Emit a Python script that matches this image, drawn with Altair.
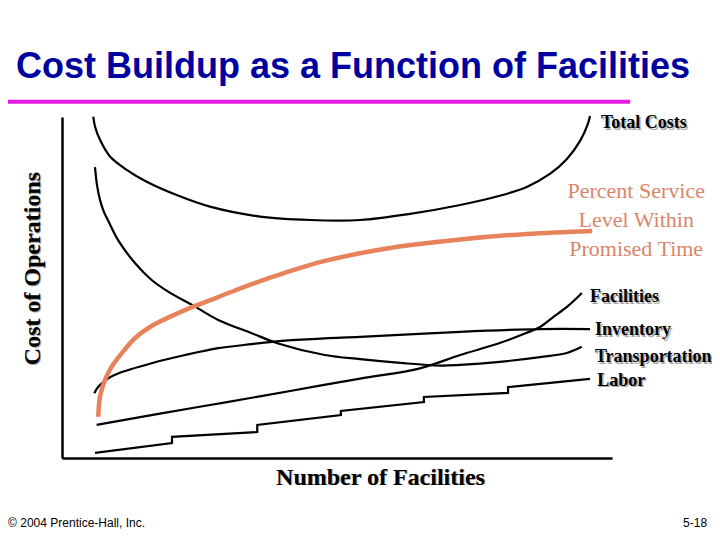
import altair as alt
import pandas as pd

# ---------------- data (x: number of facilities index, y: cost index) ----------------
total_x = [5.69, 6.0, 6.91, 8.73, 11.76, 15.4, 20.85, 26.9, 36.0, 45.1, 54.2, 63.3, 72.4, 79.6, 84.5, 88.7, 91.8, 94.2, 95.6, 96.0]
total_y = [100.1, 97.2, 93.3, 88.4, 84.5, 81.0, 77.1, 73.7, 70.8, 69.8, 69.8, 71.6, 74.2, 76.9, 79.5, 83.3, 87.7, 93.0, 97.9, 100.3]

service_x = [6.6, 6.91, 7.82, 9.04, 10.85, 13.3, 16.3, 19.9, 24.2, 28.4, 34.5, 40.5, 47.8, 59.6, 72.4, 84.5, 96.4]
service_y = [12.1, 18.0, 22.9, 26.8, 30.7, 35.2, 38.7, 41.6, 44.6, 47.2, 51.0, 54.3, 57.8, 61.6, 64.1, 65.7, 66.6]

transport_x = [6.0, 6.36, 6.91, 7.64, 8.42, 10.2, 13.3, 16.3, 19.3, 24.2, 28.4, 34.5, 39.3, 47.8, 54.2, 61.5, 68.7, 72.4, 79.6, 86.9, 91.8, 94.5]
transport_y = [85.3, 80.1, 75.7, 72.1, 69.5, 63.9, 57.1, 52.2, 48.8, 44.4, 40.5, 36.6, 33.6, 30.2, 29.0, 27.9, 27.1, 27.3, 28.2, 29.6, 30.8, 32.6]

facilities_x = [6.3, 17.8, 30.0, 42.0, 54.2, 65.1, 72.4, 79.6, 84.5, 86.9, 89.3, 91.8, 93.6, 94.5]
facilities_y = [9.7, 13.0, 16.4, 19.8, 23.3, 26.3, 30.2, 33.7, 36.7, 38.4, 41.3, 44.3, 46.9, 48.4]

inventory_x = [5.87, 6.6, 8.42, 10.2, 16.3, 22.4, 28.4, 34.5, 40.5, 47.8, 54.2, 72.4, 86.9, 96.0]
inventory_y = [19.0, 20.9, 23.4, 24.8, 27.8, 30.2, 32.2, 33.4, 34.4, 35.1, 35.5, 37.0, 37.8, 37.8]

labor_x = [6.0, 20.0, 20.0, 35.5, 35.5, 50.7, 50.7, 65.8, 65.8, 81.1, 81.1, 96.0]
labor_y = [1.5, 4.4, 6.2, 7.6, 9.7, 12.6, 13.8, 16.4, 17.9, 19.1, 20.8, 23.2]

curve_labels = ["Total Costs", "Facilities", "Inventory", "Transportation", "Labor"]
service_lines = ["Percent Service", "Level Within", "Promised Time"]
footer_texts = ["© 2004 Prentice-Hall, Inc.", "5-18"]
x_title = "Number of Facilities"
y_title = "Cost of Operations"

# ---------------- layout of annotations (data units) ----------------
label_x = [98.0, 96.0, 96.9, 96.9, 97.3]
label_y = [98.2, 47.2, 37.5, 29.6, 22.6]
service_text_x = [104.4, 104.4, 104.4]
service_text_y = [78.3, 69.8, 61.3]


def frame(name, xs, ys):
    return pd.DataFrame({"series": name, "x": xs, "y": ys, "i": list(range(len(xs)))})


curves = pd.concat([
    frame("Total Costs", total_x, total_y),
    frame("Transportation", transport_x, transport_y),
    frame("Facilities", facilities_x, facilities_y),
    frame("Inventory", inventory_x, inventory_y),
])
service = frame("Percent Service", service_x, service_y)
labor = frame("Labor", labor_x, labor_y)

labels = pd.DataFrame({"text": curve_labels, "x": label_x, "y": label_y})
service_txt = pd.DataFrame({"text": service_lines, "x": service_text_x, "y": service_text_y})
footer_l = pd.DataFrame({"text": [footer_texts[0]], "x": [-9.8], "y": [-19.0]})
footer_r = pd.DataFrame({"text": [footer_texts[1]], "x": [117.3], "y": [-19.0]})
underline = pd.DataFrame({"x": [-10.0], "x2": [103.3], "y": [104.5]})
xt_shadow_df = pd.DataFrame({"text": [x_title], "x": [57.8], "y": [-7.62]})
yt_shadow_df = pd.DataFrame({"text": [y_title], "x": [-5.45], "y": [55.72]})

XS = alt.Scale(domain=[0, 100], nice=False, zero=False)
YS = alt.Scale(domain=[0, 100], nice=False, zero=False)

serif = "Liberation Serif"
sans = "Liberation Sans"
shadow = "#a8a8a8"

x_axis = alt.Axis(title=x_title, titleFont=serif, titleFontSize=24, titleFontWeight="bold",
                  titleColor="black", titleX=318, titleY=26, titleAlign="center", titleBaseline="alphabetic",
                  domain=True, domainColor="black", domainWidth=2.5, ticks=False, labels=False, grid=False,
                  zindex=1)
y_axis = alt.Axis(title=y_title, titleFont=serif, titleFontSize=24, titleFontWeight="bold",
                  titleColor="black", titleX=-30, titleY=151, titleAngle=270, titleAlign="center",
                  titleBaseline="middle", domain=True, domainColor="black", domainWidth=2.5, ticks=False,
                  labels=False, grid=False, zindex=1)


def xq():
    return alt.X("x:Q", scale=XS, axis=x_axis)


def yq():
    return alt.Y("y:Q", scale=YS, axis=y_axis)


black_curves = alt.Chart(curves).mark_line(interpolate="catmull-rom", color="black", strokeWidth=2.2).encode(
    x=xq(), y=yq(), detail="series:N", order="i:Q")

labor_line = alt.Chart(labor).mark_line(color="black", strokeWidth=2.2).encode(
    x=xq(), y=yq(), order="i:Q")

service_line = alt.Chart(service).mark_line(interpolate="catmull-rom", color="#e8825a", strokeWidth=4.5).encode(
    x=xq(), y=yq(), order="i:Q")

rule = alt.Chart(underline).mark_rule(color="#e31be3", strokeWidth=4).encode(
    x=xq(), x2="x2:Q", y=yq())

xt_shadow = alt.Chart(xt_shadow_df).mark_text(font=serif, fontSize=24, fontWeight="bold", color=shadow,
                                              align="center", baseline="alphabetic", dx=1.5, dy=1.5).encode(
    x=xq(), y=yq(), text="text:N")
yt_shadow = alt.Chart(yt_shadow_df).mark_text(font=serif, fontSize=24, fontWeight="bold", color=shadow,
                                              align="center", baseline="middle", angle=270,
                                              dx=-1.5, dy=1.5).encode(
    x=xq(), y=yq(), text="text:N")

label_shadow = alt.Chart(labels).mark_text(font=serif, fontSize=18, fontWeight="bold", color=shadow,
                                           align="left", baseline="middle", dx=1.5, dy=1.5).encode(
    x=xq(), y=yq(), text="text:N")
label_text = alt.Chart(labels).mark_text(font=serif, fontSize=18, fontWeight="bold", color="black",
                                         align="left", baseline="middle").encode(
    x=xq(), y=yq(), text="text:N")

service_label = alt.Chart(service_txt).mark_text(font=serif, fontSize=22, color="#d9866a",
                                                 align="center", baseline="middle").encode(
    x=xq(), y=yq(), text="text:N")

footer_left = alt.Chart(footer_l).mark_text(font=sans, fontSize=12, color="black", align="left",
                                            baseline="middle").encode(x=xq(), y=yq(), text="text:N")
footer_right = alt.Chart(footer_r).mark_text(font=sans, fontSize=12, color="black", align="right",
                                             baseline="middle").encode(x=xq(), y=yq(), text="text:N")

chart = alt.layer(
    black_curves, labor_line, service_line, rule, xt_shadow, yt_shadow,
    label_shadow, label_text, service_label, footer_left, footer_right
).properties(
    width=550, height=341,
    padding={"left": 54, "top": 109, "right": 100, "bottom": 74},
    autosize=alt.AutoSizeParams(type="none"),
    background="white",
    title=alt.Title("Cost Buildup as a Function of Facilities", font=sans, fontSize=36, fontWeight="bold",
                    color="#0000a0", anchor="middle", frame="group", dx=16, dy=47, offset=33,
                    baseline="alphabetic"),
).configure_view(strokeWidth=0)

chart.save("out.html", embed_options={"renderer": "svg", "actions": False})
